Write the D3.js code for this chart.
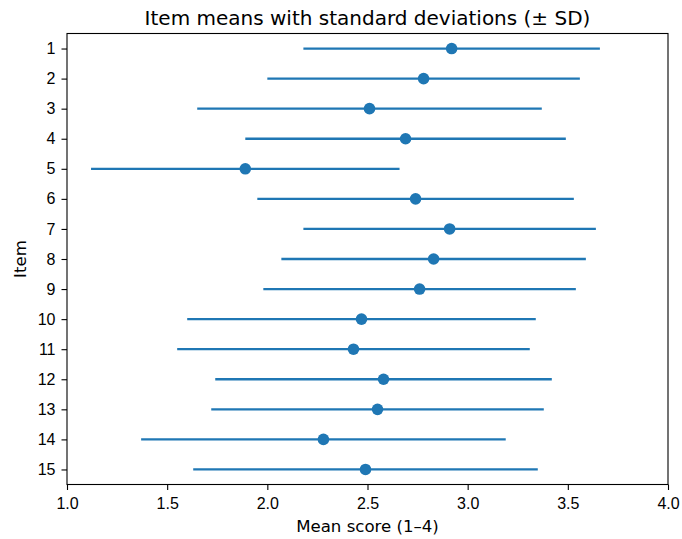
<!DOCTYPE html>
<html>
<head>
<meta charset="utf-8">
<script src="https://cdn.jsdelivr.net/npm/d3@7"></script>
<style>
  body { margin: 0; background: #fff; }
  svg { font-family: "DejaVu Sans", sans-serif; }
  .tick text { font-size: 16px; fill: #000; }
  .tick line { stroke: #000; stroke-width: 1.1px; }
  .domain { display: none; }
</style>
</head>
<body>
<div id="chart"></div>
<script>
// item labels, means and standard deviations
const items = ["1", "2", "3", "4", "5", "6", "7", "8", "9", "10", "11", "12", "13", "14", "15"];
const means = [2.92, 2.78, 2.51, 2.69, 1.89, 2.74, 2.91, 2.83, 2.76, 2.47, 2.43, 2.58, 2.55, 2.28, 2.49];
const sds   = [0.74, 0.78, 0.86, 0.80, 0.77, 0.79, 0.73, 0.76, 0.78, 0.87, 0.88, 0.84, 0.83, 0.91, 0.86];
const xTicks = [1.0, 1.5, 2.0, 2.5, 3.0, 3.5, 4.0];

const width = 682, height = 539;
const margin = { top: 33.5, right: 14, bottom: 54.5, left: 67 };
const blue = "#1f77b4";

const svg = d3.select("#chart").append("svg")
    .attr("width", width)
    .attr("height", height);

const x = d3.scaleLinear()
    .domain([1, 4])
    .range([margin.left, width - margin.right]);

const y = d3.scalePoint()
    .domain(items)
    .range([margin.top, height - margin.bottom])
    .padding(0.5);

// axes
svg.append("g")
    .attr("transform", `translate(0,${height - margin.bottom})`)
    .call(d3.axisBottom(x).tickValues(xTicks).tickFormat(d3.format(".1f")).tickSize(5.5).tickPadding(7.5));

svg.append("g")
    .attr("transform", `translate(${margin.left},0)`)
    .call(d3.axisLeft(y).tickSize(5.5).tickPadding(6));

// error bars
const data = items.map((d, i) => ({ item: d, mean: means[i], sd: sds[i] }));

svg.append("g")
    .selectAll("line")
    .data(data)
    .join("line")
    .attr("x1", d => x(d.mean - d.sd))
    .attr("x2", d => x(d.mean + d.sd))
    .attr("y1", d => y(d.item))
    .attr("y2", d => y(d.item))
    .attr("stroke", blue)
    .attr("stroke-width", 2.3);

svg.append("g")
    .selectAll("circle")
    .data(data)
    .join("circle")
    .attr("cx", d => x(d.mean))
    .attr("cy", d => y(d.item))
    .attr("r", 5.8)
    .attr("fill", blue);

// frame
svg.append("rect")
    .attr("x", margin.left)
    .attr("y", margin.top)
    .attr("width", width - margin.left - margin.right)
    .attr("height", height - margin.top - margin.bottom)
    .attr("fill", "none")
    .attr("stroke", "#000")
    .attr("stroke-width", 1.1);

// labels
svg.append("text")
    .attr("x", (margin.left + width - margin.right) / 2)
    .attr("y", 25)
    .attr("text-anchor", "middle")
    .style("font-size", "20px")
    .text("Item means with standard deviations (± SD)");

svg.append("text")
    .attr("x", (margin.left + width - margin.right) / 2)
    .attr("y", 532)
    .attr("text-anchor", "middle")
    .style("font-size", "16.6px")
    .text("Mean score (1–4)");

svg.append("text")
    .attr("transform", `translate(26,${(margin.top + height - margin.bottom) / 2}) rotate(-90)`)
    .attr("text-anchor", "middle")
    .style("font-size", "16.6px")
    .text("Item");
</script>
</body>
</html>
